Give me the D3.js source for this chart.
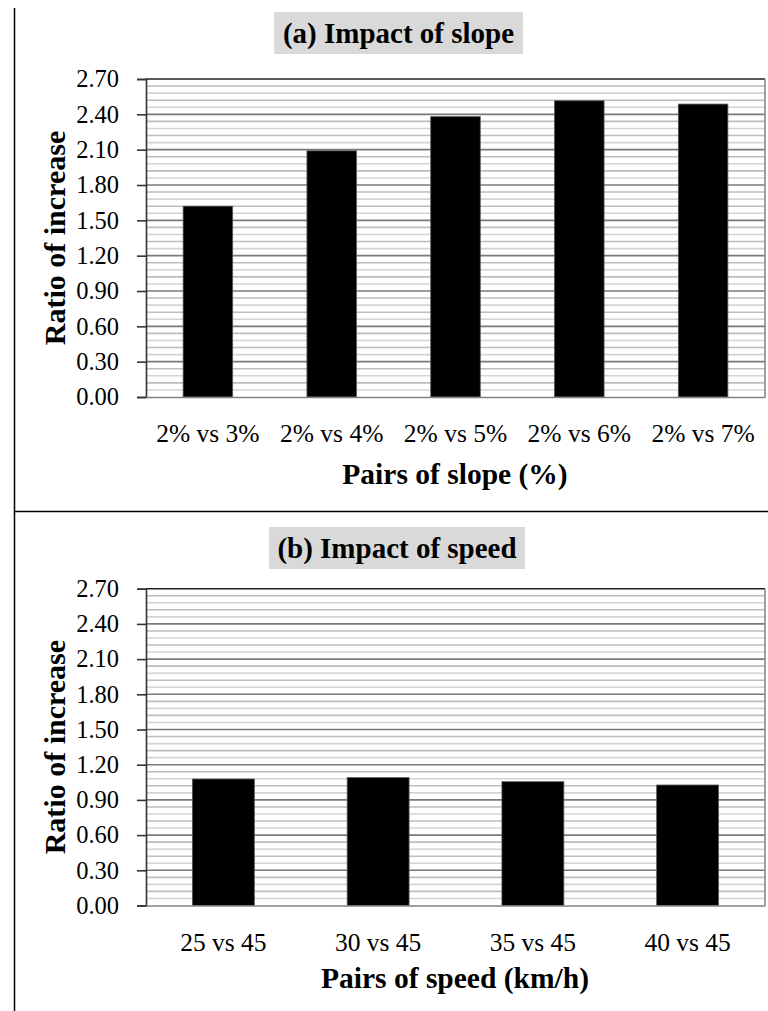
<!DOCTYPE html>
<html>
<head>
<meta charset="utf-8">
<script src="https://cdn.jsdelivr.net/npm/d3@7"></script>
<style>
  html, body { margin: 0; padding: 0; background: #fff; }
  svg { display: block; }
  text { font-family: "Liberation Serif", "Times New Roman", serif; fill: #000; }
</style>
</head>
<body>
<svg id="chart" width="768" height="1011"></svg>
<script>
// ---- Data ----
const slopeCategories = ["2% vs 3%", "2% vs 4%", "2% vs 5%", "2% vs 6%", "2% vs 7%"];
const slopeValues = [1.62, 2.09, 2.38, 2.515, 2.487];
const speedCategories = ["25 vs 45", "30 vs 45", "35 vs 45", "40 vs 45"];
const speedValues = [1.078, 1.09, 1.055, 1.027];
const yTicks = [0.00, 0.30, 0.60, 0.90, 1.20, 1.50, 1.80, 2.10, 2.40, 2.70];
const yMinorStep = 0.06;
const yMax = 2.70;

const svg = d3.select("#chart");

// panel frame lines
svg.append("line").attr("x1", 14.5).attr("x2", 14.5).attr("y1", 8).attr("y2", 1011)
  .attr("stroke", "#000").attr("stroke-width", 1.5);
svg.append("line").attr("x1", 14).attr("x2", 768).attr("y1", 511.5).attr("y2", 511.5)
  .attr("stroke", "#000").attr("stroke-width", 1.5);

function drawPanel(cfg) {
  const x = d3.scaleBand().domain(cfg.categories).range([146, 765]).paddingInner(0.6).paddingOuter(0.3);
  const y = d3.scaleLinear().domain([0, yMax]).range([cfg.bottom, cfg.top]);
  const g = svg.append("g");

  // title box
  g.append("rect").attr("x", cfg.titleBox[0]).attr("y", cfg.titleBox[1])
    .attr("width", cfg.titleBox[2]).attr("height", cfg.titleBox[3]).attr("fill", "#d9d9d9");
  g.append("text").attr("x", cfg.titleBox[0] + cfg.titleBox[2] / 2).attr("y", cfg.titleBox[1] + 31)
    .attr("text-anchor", "middle").attr("font-weight", "bold").attr("font-size", 29)
    .text(cfg.title);

  // minor gridlines
  const minor = d3.range(0, yMax + 1e-9, yMinorStep).filter(v => Math.abs(v / 0.3 - Math.round(v / 0.3)) > 1e-6);
  g.selectAll(".minor").data(minor).join("line")
    .attr("x1", 146).attr("x2", 765)
    .attr("y1", d => y(d)).attr("y2", d => y(d))
    .attr("stroke", (d, i) => i % 2 ? "#bdbdbd" : "#d4d4d4").attr("stroke-width", 1.6);

  // major gridlines
  g.selectAll(".major").data(yTicks.filter(v => v > 0 && v < yMax)).join("line")
    .attr("x1", 146).attr("x2", 765)
    .attr("y1", d => y(d)).attr("y2", d => y(d))
    .attr("stroke", "#7a7a7a").attr("stroke-width", 1.6);

  // border top & right
  g.append("line").attr("x1", 146).attr("x2", 765).attr("y1", y(yMax)).attr("y2", y(yMax))
    .attr("stroke", "#222").attr("stroke-width", 1.6);
  g.append("line").attr("x1", 765).attr("x2", 765).attr("y1", y(yMax)).attr("y2", y(0))
    .attr("stroke", "#888").attr("stroke-width", 1.6);

  // bars
  g.selectAll(".bar").data(cfg.values).join("rect")
    .attr("x", (d, i) => x(cfg.categories[i]))
    .attr("width", x.bandwidth())
    .attr("y", d => y(d))
    .attr("height", d => y(0) - y(d))
    .attr("fill", "#000").attr("stroke", "#555").attr("stroke-width", 0.8);

  // y axis
  const yAxis = d3.axisLeft(y).tickValues(yTicks).tickFormat(d3.format(".2f"))
    .tickSize(9).tickPadding(18);
  const ya = g.append("g").attr("transform", "translate(146,0)").call(yAxis);
  ya.select(".domain").attr("stroke", "#333").attr("stroke-width", 1.6);
  ya.selectAll(".tick line").attr("stroke", "#333").attr("stroke-width", 1.6);
  ya.selectAll(".tick text").attr("font-size", 24.5).attr("font-family", "Liberation Serif").attr("fill", "#000");

  // x axis
  const xAxis = d3.axisBottom(x).tickSize(0).tickPadding(27);
  const xa = g.append("g").attr("transform", `translate(0,${y(0)})`).call(xAxis);
  xa.select(".domain").attr("stroke", "#808080").attr("stroke-width", 1.6);
  xa.selectAll(".tick text").attr("font-size", 25.5).attr("font-family", "Liberation Serif").attr("fill", "#000");

  // axis titles
  g.append("text").attr("x", cfg.xTitleX).attr("y", cfg.xTitleY).attr("text-anchor", "middle")
    .attr("font-weight", "bold").attr("font-size", 29.5).text(cfg.xTitle);
  g.append("text").attr("transform", `translate(65,${(cfg.top + cfg.bottom) / 2}) rotate(-90)`)
    .attr("text-anchor", "middle").attr("font-weight", "bold").attr("font-size", 30)
    .text("Ratio of increase");
}

drawPanel({
  categories: slopeCategories, values: slopeValues,
  top: 79, bottom: 397,
  title: "(a) Impact of slope", titleBox: [274, 12, 249, 42],
  xTitle: "Pairs of slope (%)", xTitleX: 455, xTitleY: 484
});
drawPanel({
  categories: speedCategories, values: speedValues,
  top: 588.7, bottom: 905.5,
  title: "(b) Impact of speed", titleBox: [269, 527, 256, 42],
  xTitle: "Pairs of speed (km/h)", xTitleX: 455, xTitleY: 988
});
</script>
</body>
</html>
